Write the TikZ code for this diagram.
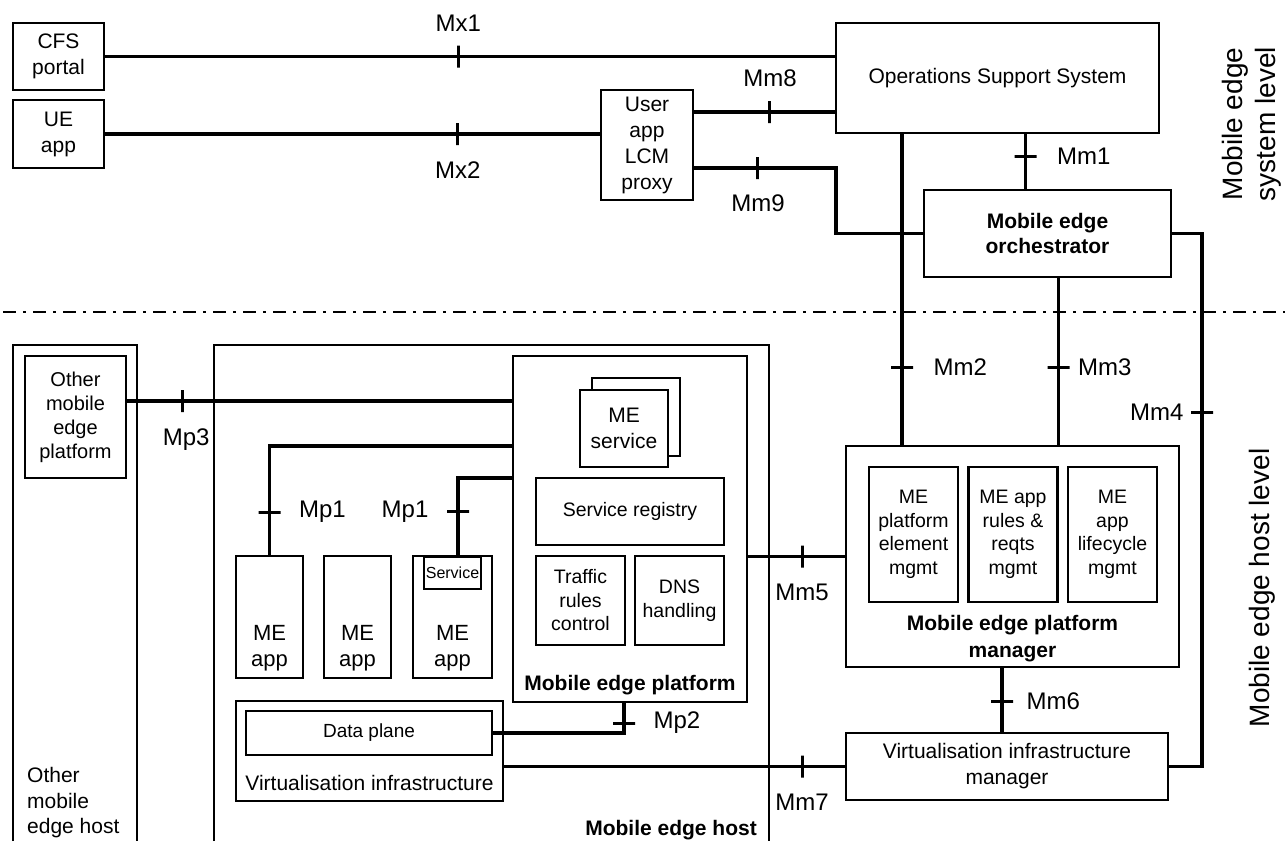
\documentclass[tikz,border=0pt]{standalone}
\usepackage{fontspec}
\setmainfont{Liberation Sans}
\usetikzlibrary{positioning}
\tikzset{
    every node/.style={font=\fontsize{21}{26}\selectfont, inner sep=0pt},
    mebox/.style={draw, line width=2.8pt, outer sep=0pt, align=center},
    innerbox/.style={mebox, font=\fontsize{19.5}{23.5}\selectfont},
    ifmark/.style={draw, line width=3pt, minimum width=0pt,
        minimum height=22pt, sloped},
    reflabel/.style={font=\fontsize{24}{28}\selectfont},
    boxtitle/.style={font=\bfseries\fontsize{21}{26.5}\selectfont, align=center},
    levellabel/.style={font=\fontsize{28}{33}\selectfont, rotate=90, align=center},
    link/.style={line width=3.3pt},
}

\begin{document}
\begin{tikzpicture}[x=1pt, y=-1pt]
    \useasboundingbox (0, 0) rectangle (1285, 841);
    \node[mebox, minimum width=91pt, minimum height=67pt] (cfs) at (58.5, 56.5) {CFS\\portal};
    \node[mebox, minimum width=91pt, minimum height=68pt] (ueapp) at (58.5, 134) {UE\\app};
    \node[mebox, minimum width=92pt, minimum height=110pt] (proxy) at (647, 145) {User\\app\\LCM\\proxy};
    \node[mebox, minimum width=323pt, minimum height=110pt] (oss) at (997.5, 78) {Operations Support System};
    \node[mebox, minimum width=247pt, minimum height=87pt, font=\bfseries\fontsize{21}{25}\selectfont]
        (meo) at (1047.5, 233.5) {Mobile edge\\orchestrator};
    \node[levellabel] (syslevel) at (1252, 124) {Mobile edge\\system level};
    \draw[link, line width=2.8pt, dash pattern=on 13pt off 7pt on 3pt off 7pt] (3, 312) -- (1285, 312);

    \draw[mebox] (13, 841) |- (137, 345) -- (137, 841);
    \draw[mebox] (214, 841) |- (769, 345) -- (769, 841);
    \node[mebox, minimum width=101pt, minimum height=122pt, font=\fontsize{20}{24}\selectfont]
        (omep) at (75.5, 417) {Other\\mobile\\edge\\platform};
    \node[anchor=west, align=left, font=\fontsize{21}{25.5}\selectfont] (omehtxt) at (27, 803)
        {Other\\mobile\\edge host};
    \node[boxtitle, anchor=base east] (mehtxt) at (757, 835) {Mobile edge host};

    \node[mebox, minimum width=234pt, minimum height=346pt] (mep) at (630, 529) {};
    \node[boxtitle, anchor=base] (meptxt) at ([yshift=12pt]mep.south) {Mobile edge platform};
    \node[mebox, minimum width=88pt, minimum height=78pt] (mesvcback) at (636, 417) {};
    \node[mebox, fill=white, minimum width=88pt, minimum height=77pt] (mesvc) at (624, 428.5) {ME\\service};
    \node[innerbox, minimum width=188pt, minimum height=67pt] (registry) at (630, 511.5) {Service registry};
    \node[innerbox, minimum width=89pt, minimum height=89pt] (traffic) at (580.5, 600.5) {Traffic\\rules\\control};
    \node[innerbox, minimum width=89pt, minimum height=89pt] (dns) at (679.5, 600.5) {DNS\\handling};

    \foreach \name/\cx/\w in {app1/269.5/67, app2/357.5/67, app3/452.5/79} {
        \node[mebox, minimum width=\w pt, minimum height=122pt] (\name) at (\cx, 617) {};
        \node[font=\fontsize{22}{26}\selectfont, align=center] (\name txt)
            at ([yshift=-31.5pt]\name.center) {ME\\app};
    }
    \node[mebox, minimum width=57pt, minimum height=32pt, font=\fontsize{16}{19}\selectfont]
        (svc) at (452.5, 573) {Service};

    \node[mebox, minimum width=267pt, minimum height=100pt] (vi) at (369.5, 751) {};
    \node[anchor=base] (vitxt) at ([yshift=11pt]vi.south) {Virtualisation infrastructure};
    \node[mebox, minimum width=246pt, minimum height=44pt, font=\fontsize{19}{23}\selectfont]
        (dplane) at (369, 733) {Data plane};

    \node[mebox, minimum width=333pt, minimum height=221pt] (mepm) at (1012.5, 556.5) {};
    \foreach \name/\cx/\txt in {pmelem/913.5/{ME\\platform\\element\\mgmt},
        pmrules/1013/{ME app\\rules \&\\reqts\\mgmt}, pmlcm/1112.5/{ME\\app\\lifecycle\\mgmt}}
        \node[innerbox, minimum width=89pt, minimum height=135pt] (\name) at (\cx, 534.5) {\txt};
    \node[boxtitle] (mepmtxt) at (1012.5, 638.5) {Mobile edge platform\\manager};
    \node[mebox, minimum width=322pt, minimum height=67pt] (vim) at (1007, 766.5)
        {Virtualisation infrastructure\\manager};
    \node[levellabel] (hostlevel) at (1262, 588) {Mobile edge host level};

    \coordinate (mm8a) at ([yshift=33pt]proxy.east);
    \coordinate (mm9a) at ([yshift=-23pt]proxy.east);
    \coordinate (mm1a) at ([xshift=-22pt]meo.north);
    \coordinate (mm2a) at ([xshift=56pt]mepm.north west);
    \coordinate (mm3a) at ([xshift=11pt]meo.south);
    \coordinate (mm6a) at ([xshift=-5pt]vim.north);
    \coordinate (mp1a) at ([yshift=83pt]mep.west);
    \coordinate (mp1b) at ([yshift=51pt]mep.west);
    \coordinate (mp3a) at ([yshift=16pt]omep.east);

    \draw[link] (cfs.east) -- node[ifmark, pos=.484] (mx1mark) {}
        node[reflabel, pos=.484, above=23pt] (mx1) {Mx1} (cfs.east -| oss.west);
    \draw[link] (ueapp.east) -- node[ifmark, pos=.712] (mx2mark) {}
        node[reflabel, pos=.712, below=26pt] (mx2) {Mx2} (ueapp.east -| proxy.west);
    \draw[link] (mm8a) -- node[ifmark, pos=.538] (mm8mark) {}
        node[reflabel, pos=.538, above=24pt] (mm8) {Mm8} (mm8a -| oss.west);
    \draw[link] (mm9a) -| node[ifmark, pos=.227] (mm9mark) {}
        node[reflabel, pos=.227, below=25pt] (mm9) {Mm9} (oss.west |- meo.west) -- (meo.west);
    \draw[link] (mm1a) -- node[ifmark, pos=.596] (mm1mark) {}
        node[reflabel, pos=.596, right=30pt] (mm1) {Mm1} (mm1a |- oss.south);
    \draw[link] (mm2a) -- node[ifmark, pos=.252] (mm2mark) {}
        node[reflabel, pos=.252, right=30pt] (mm2) {Mm2} (mm2a |- oss.south);
    \draw[link] (mm3a) -- node[ifmark, pos=.533] (mm3mark) {}
        node[reflabel, pos=.533, right=18pt] (mm3) {Mm3} (mm3a |- mepm.north);
    \draw[link] (meo.east) -- ++(31, 0) |- node[ifmark, pos=.168] (mm4mark) {}
        node[reflabel, pos=.168, left=17pt] (mm4) {Mm4} (vim.east);
    \draw[link] (mepm.west) -- node[ifmark, pos=.444] (mm5mark) {}
        node[reflabel, pos=.444, below=26pt] (mm5) {Mm5} (mepm.west -| mep.east);
    \draw[link] (mm6a) -- node[ifmark, pos=.485] (mm6mark) {}
        node[reflabel, pos=.485, right=23pt] (mm6) {Mm6} (mm6a |- mepm.south);
    \draw[link] (vim.west) -- node[ifmark, pos=.128] (mm7mark) {}
        node[reflabel, pos=.128, below=26pt] (mm7) {Mm7} (vim.west -| vi.east);
    \draw[link] (app1.north) |- node[ifmark, pos=.2] (mp1amark) {}
        node[reflabel, pos=.2, right=28pt] (mp1left) {Mp1} (mp1a);
    \draw[link] ([xshift=5.5pt]svc.north) |- node[ifmark, pos=.285] (mp1bmark) {}
        node[reflabel, pos=.285, left=28pt] (mp1right) {Mp1} (mp1b);
    \draw[link] (dplane.east) -| node[ifmark, pos=.661] (mp2mark) {}
        node[reflabel, pos=.661, right=28pt] (mp2) {Mp2} ([xshift=-6pt]mep.south);
    \draw[link] (mp3a) -- node[ifmark, pos=.145] (mp3mark) {}
        node[reflabel, pos=.145, below=26pt, xshift=4pt] (mp3) {Mp3} (mp3a -| mep.west);
\end{tikzpicture}
\end{document}
